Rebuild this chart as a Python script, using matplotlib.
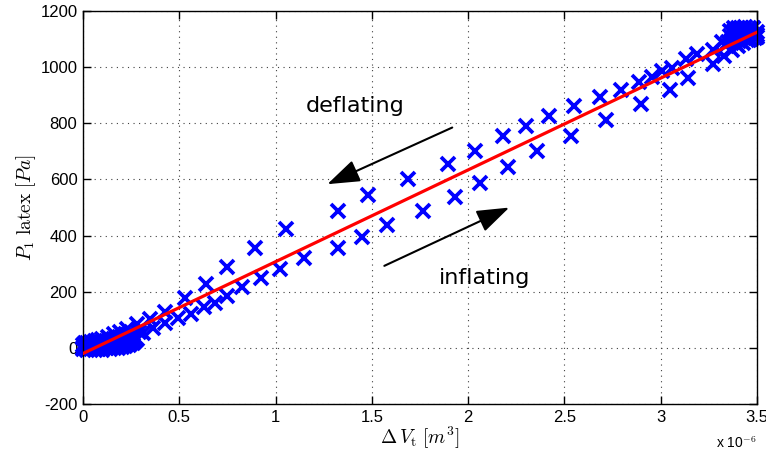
import numpy as np
import matplotlib
matplotlib.use("Agg")
import matplotlib.pyplot as plt
import matplotlib.ticker

plt.rcParams["mathtext.fontset"] = "cm"
plt.rcParams["font.family"] = ["Liberation Sans", "DejaVu Sans"]

# ---------------------------
# Data (volume in 1e-6 m^3, pressure in Pa)
# ---------------------------
# inflating branch (lower), ascending volume
infl_v = [0.00, 0.01, 0.02, 0.03, 0.04, 0.05, 0.06, 0.07, 0.08, 0.09, 0.10, 0.11,
          0.12, 0.13, 0.14, 0.15, 0.16, 0.17, 0.18, 0.19, 0.20, 0.21, 0.22, 0.23,
          0.24, 0.25, 0.26, 0.27, 0.28, 0.313, 0.365, 0.426, 0.495, 0.562, 0.630,
          0.688, 0.746, 0.827, 0.923, 1.023, 1.148, 1.322, 1.447, 1.580, 1.767,
          1.931, 2.061, 2.205, 2.359, 2.534, 2.719, 2.901, 3.048, 3.143, 3.273,
          3.33, 3.37, 3.40, 3.43, 3.46, 3.49, 3.50]
infl_p = [-5, 2, -8, 0, -4, 3, -7, 1, -3, 4, -6, 2,
          -2, 5, -4, 6, 0, 8, -2, 9, 3, 12, 5, 14,
          10, 18, 18, 24, 30, 54, 72, 90, 106, 120, 144,
          161, 185, 218, 250, 280, 319, 356, 394, 439, 489,
          536, 587, 643, 702, 753, 810, 869, 919, 960, 1013,
          1040, 1062, 1075, 1085, 1095, 1105, 1115]

# deflating branch (upper), descending volume
defl_v = [3.50, 3.49, 3.48, 3.47, 3.46, 3.45, 3.44, 3.43, 3.42, 3.41, 3.40, 3.39,
          3.38, 3.37, 3.36, 3.35, 3.34, 3.36, 3.38, 3.40, 3.42, 3.44, 3.46, 3.48,
          3.50, 3.39, 3.41, 3.45, 3.47,
          3.32, 3.27, 3.19, 3.13, 3.057, 3.01, 2.953,
          2.888, 2.797, 2.684, 2.549, 2.420, 2.300, 2.182, 2.035, 1.897, 1.689,
          1.478, 1.326, 1.052, 0.893, 0.746, 0.637, 0.530, 0.428, 0.348, 0.279,
          0.227, 0.19, 0.16, 0.13, 0.10, 0.08, 0.06, 0.04, 0.02, 0.00, 0.01, 0.03,
          0.05, 0.07, 0.09, 0.11, 0.12, 0.14, 0.15, 0.17, 0.18, 0.20, 0.21, 0.23,
          0.24, 0.26, 0.27, 0.29, 0.00, 0.02, 0.04, 0.06, 0.08]
defl_p = [1125, 1110, 1140, 1120, 1135, 1105, 1130, 1115, 1140, 1100, 1125, 1110,
          1130, 1095, 1110, 1090, 1078, 1128, 1138, 1140, 1138, 1142, 1140, 1138,
          1108, 1082, 1092, 1098, 1102,
          1090, 1060, 1048, 1030, 996, 985, 966,
          946, 919, 895, 863, 827, 791, 753, 702, 655, 601,
          543, 487, 422, 356, 289, 226, 176, 128, 102, 84,
          66, 55, 48, 40, 33, 28, 24, 20, 16, 12, 18, 8,
          14, 20, 12, 26, 4, 30, 10, 36, 15, 40, 20, 45,
          28, 50, 35, 58, 0, 5, -2, 10, 6]

# linear fit of all data
fit_slope = 326.9
fit_intercept = -20.0
fit_v = [0.0, 3.5]

# annotations
defl_text = (1.412, 863)
infl_text = (2.087, 249)
defl_arrow = ((1.931, 789), (1.256, 579))
infl_arrow = ((1.552, 288), (2.227, 504))

# ---------------------------
# Plot
# ---------------------------
fig = plt.figure(figsize=(7.66, 4.59), dpi=100)
ax = fig.add_axes([0.1084, 0.1198, 0.8796, 0.8562])

ax.plot(infl_v, infl_p, "x", color=(0, 0, 1), ms=9.5, mew=2.7, clip_on=False)
ax.plot(defl_v, defl_p, "x", color=(0, 0, 1), ms=9.5, mew=2.7, clip_on=False)
fit_p = [fit_slope * v + fit_intercept for v in fit_v]
ax.plot(fit_v, fit_p, "-", color=(1, 0, 0), lw=2.3, zorder=3)

ax.annotate("", xy=defl_arrow[1], xytext=defl_arrow[0],
            arrowprops=dict(arrowstyle="-|>,head_length=1.0,head_width=0.35",
                            mutation_scale=20, color="black", lw=1.5))
ax.annotate("", xy=infl_arrow[1], xytext=infl_arrow[0],
            arrowprops=dict(arrowstyle="-|>,head_length=1.0,head_width=0.35",
                            mutation_scale=20, color="black", lw=1.5))
ax.text(defl_text[0], defl_text[1], "deflating", fontsize=16, family="DejaVu Sans",
        ha="center", va="center")
ax.text(infl_text[0], infl_text[1], "inflating", fontsize=16, family="DejaVu Sans",
        ha="center", va="center")

ax.set_xlim(0, 3.5)
ax.set_ylim(-200, 1200)
ax.set_xticks(np.arange(0, 3.51, 0.5))
ax.set_yticks(np.arange(-200, 1201, 200))
ax.xaxis.set_major_formatter(matplotlib.ticker.FormatStrFormatter("%g"))
ax.yaxis.set_major_formatter(matplotlib.ticker.FormatStrFormatter("%g"))
ax.tick_params(direction="in", top=True, right=True, length=6, width=1,
               labelsize=12, pad=4)
ax.grid(True, linestyle=(0, (1, 4)), color="0.25", lw=0.8)
for s in ax.spines.values():
    s.set_linewidth(1.0)

ax.set_xlabel(r"$\Delta\,V_\mathrm{t}\ [m^3]$", fontsize=14, labelpad=0)
ax.set_ylabel(r"$P_1\ \mathrm{latex}\ [Pa]$", fontsize=14, labelpad=2)
fig.text(0.935, 0.024, r"x 10$^{-6}$", fontsize=10)

plt.savefig("out.png", dpi=100)
plt.close()
